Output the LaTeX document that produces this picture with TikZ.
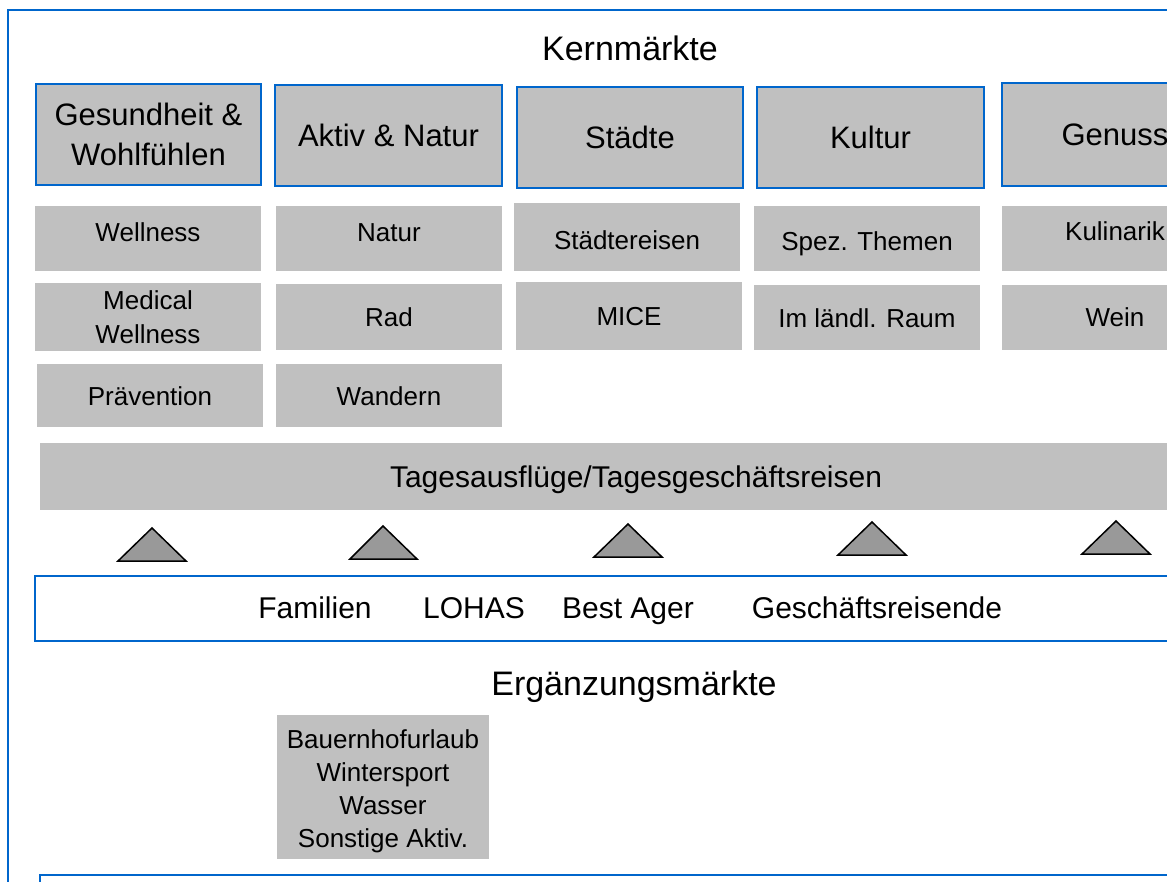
\documentclass[tikz,border=0pt]{standalone}
\usepackage{fontspec}
\setmainfont{Liberation Sans}
\definecolor{bl}{RGB}{0,102,204}
\definecolor{gr}{RGB}{192,192,192}
\definecolor{tri}{RGB}{153,153,153}
\begin{document}
\begin{tikzpicture}[x=1pt,y=-1pt,
  frame/.style={draw=bl,line width=2pt},
  one/.style={text height=#1,text depth=0pt},
  hbox/.style={draw=bl,line width=2pt,fill=gr,inner sep=0pt,minimum width=225pt,minimum height=101pt,align=center,font=\fontsize{31}{40}\selectfont},
  sbox/.style={fill=gr,inner sep=0pt,minimum width=226pt,minimum height=65pt,align=center,font=\fontsize{26}{34}\selectfont},
  sublab/.style={font=\fontsize{26}{34}\selectfont,inner sep=0pt,one=19pt},
  title/.style={font=\fontsize{34}{40}\selectfont,inner sep=0pt,one=24.8pt},
  seg/.style={font=\fontsize{30}{36}\selectfont,inner sep=0pt,one=21.9pt},
  trishape/.style={draw=black,fill=tri,line width=1.5pt,line join=miter}]
\useasboundingbox (0,0) rectangle (1167,881);
\clip (0,0) rectangle (1167,881);
\fill[white] (0,0) rectangle (1167,881);
% outer frame
\draw[frame] (8,10) rectangle (1300,1000);
\node[title] (kern) at (630,48) {Kernmärkte};
% header boxes
\node[hbox] (h1) at (148.5,134.5) {Gesundheit \&\\Wohlfühlen};
\node[hbox,minimum width=227pt] (h2) at (388.5,135) {Aktiv \& Natur};
\node[hbox,minimum width=226pt] (h3) at (630,137) {Städte};
\node[hbox,minimum width=227pt] (h4) at (870.5,137) {Kultur};
\node[hbox,minimum width=226pt,minimum height=103pt] (h5) at (1115,134.5) {Genuss};
% sub boxes row 1
\node[sbox,label={[sublab,yshift=7pt]center:Wellness}] (s11) at (148,238.5) {};
\node[sbox,label={[sublab,yshift=7pt]center:Natur}] (s21) at (389,238.5) {};
\node[sbox,minimum height=68pt,label={[sublab,yshift=-3pt]center:Städtereisen}] (s31) at (627,237) {};
\node[sbox,label={[sublab,yshift=-2.5pt]center:Spez. Themen}] (s41) at (867,238.5) {};
\node[sbox,label={[sublab,yshift=8pt]center:Kulinarik}] (s51) at (1115,238.5) {};
% row 2
\node[sbox,minimum height=68pt] (s12) at (148,317) {Medical\\Wellness};
\node[sbox,minimum height=66pt,one=19pt] (s22) at (389,317) {Rad};
\node[sbox,minimum height=68pt,one=19pt] (s32) at (629,315.5) {MICE};
\node[sbox,one=19pt] (s42) at (867,317.5) {Im ländl. Raum};
\node[sbox,one=19pt] (s52) at (1115,317) {Wein};
% row 3
\node[sbox,minimum height=63pt,one=19pt] (s13) at (150,395.5) {Prävention};
\node[sbox,minimum height=63pt,one=19pt] (s23) at (389,395.5) {Wandern};
% bar
\node[fill=gr,inner sep=0pt,minimum width=1200pt,minimum height=67pt,anchor=north west] (bar) at (40,443) {};
\node[seg] (bartxt) at (636,477) {Tagesausflüge/Tagesgeschäftsreisen};
% triangles
\draw[trishape] (118,561) -- (152,528) -- (186,561) -- cycle;
\draw[trishape] (350,559) -- (383,526) -- (417,559) -- cycle;
\draw[trishape] (594,557) -- (628,524) -- (662,557) -- cycle;
\draw[trishape] (838,555) -- (872,522) -- (906,555) -- cycle;
\draw[trishape] (1082,554) -- (1116,521) -- (1150,554) -- cycle;
% segment box
\node[frame,fill=white,inner sep=0pt,minimum width=1206pt,minimum height=65pt,anchor=north west] (segbox) at (34,575) {};
\node[seg] (fam) at (315,608) {Familien};
\node[seg] (lohas) at (474,608) {LOHAS};
\node[seg] (best) at (628,608) {Best Ager};
\node[seg] (gesch) at (877,608) {Geschäftsreisende};
\node[title] (erg) at (634,683) {Ergänzungsmärkte};
% complementary box
\node[fill=gr,inner sep=0pt,minimum width=212pt,minimum height=144pt,
  label={[inner sep=0pt,align=center,font=\fontsize{26}{33}\selectfont,yshift=-4pt]center:Bauernhofurlaub\\Wintersport\\Wasser\\Sonstige Aktiv.}] (bauer) at (383,787) {};
% bottom box
\draw[frame] (40,875) rectangle (1300,1000);
\end{tikzpicture}
\end{document}
